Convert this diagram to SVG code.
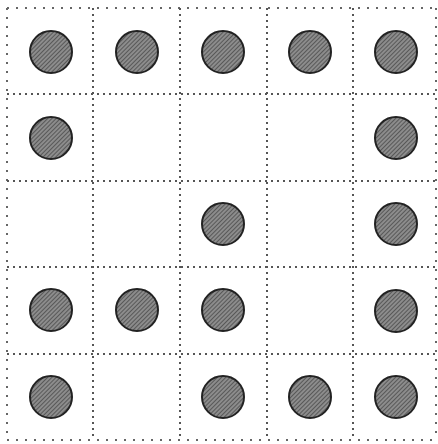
<svg xmlns="http://www.w3.org/2000/svg" width="438" height="444" viewBox="0 0 438 444">
<style>
.g{stroke:#555;stroke-width:2;stroke-dasharray:2 4;fill:none}
.o{stroke:#666;stroke-width:2;stroke-dasharray:2 7;fill:none}
.c{fill:url(#h);stroke:#222;stroke-width:2}
</style>
<defs>
<pattern id="h" width="3" height="3" patternUnits="userSpaceOnUse" patternTransform="rotate(45)">
<rect width="3" height="3" fill="#8c8c8c"/>
<line x1="0" y1="0" x2="0" y2="3" stroke="#4a4a4a" stroke-width="1.6"/>
</pattern>
</defs>
<rect width="438" height="444" fill="#fff"/>
<g id="connectors">
<line class="o" x1="7" y1="8" x2="436" y2="8"/>
<line class="o" x1="7" y1="440" x2="436" y2="440"/>
<line class="o" x1="7" y1="8" x2="7" y2="440"/>
<line class="o" x1="436" y1="8" x2="436" y2="440"/>
<line class="g" x1="93" y1="8" x2="93" y2="440"/>
<line class="g" x1="180" y1="8" x2="180" y2="440"/>
<line class="g" x1="267" y1="8" x2="267" y2="440"/>
<line class="g" x1="353" y1="8" x2="353" y2="440"/>
<line class="g" x1="7" y1="94" x2="436" y2="94"/>
<line class="g" x1="7" y1="181" x2="436" y2="181"/>
<line class="g" x1="7" y1="267" x2="436" y2="267"/>
<line class="g" x1="7" y1="354" x2="436" y2="354"/>
</g>
<g id="r0c0"><circle class="c" cx="51" cy="52" r="21"/></g>
<g id="r0c1"><circle class="c" cx="137" cy="52" r="21"/></g>
<g id="r0c2"><circle class="c" cx="223" cy="52" r="21"/></g>
<g id="r0c3"><circle class="c" cx="310" cy="52" r="21"/></g>
<g id="r0c4"><circle class="c" cx="396" cy="52" r="21"/></g>
<g id="r1c0"><circle class="c" cx="51" cy="138" r="21"/></g>
<g id="r1c4"><circle class="c" cx="396" cy="138" r="21"/></g>
<g id="r2c2"><circle class="c" cx="223" cy="224" r="21"/></g>
<g id="r2c4"><circle class="c" cx="396" cy="224" r="21"/></g>
<g id="r3c0"><circle class="c" cx="51" cy="310" r="21"/></g>
<g id="r3c1"><circle class="c" cx="137" cy="310" r="21"/></g>
<g id="r3c2"><circle class="c" cx="223" cy="310" r="21"/></g>
<g id="r3c4"><circle class="c" cx="396" cy="311" r="21"/></g>
<g id="r4c0"><circle class="c" cx="51" cy="397" r="21"/></g>
<g id="r4c2"><circle class="c" cx="223" cy="397" r="21"/></g>
<g id="r4c3"><circle class="c" cx="310" cy="397" r="21"/></g>
<g id="r4c4"><circle class="c" cx="396" cy="397" r="21"/></g>
</svg>
